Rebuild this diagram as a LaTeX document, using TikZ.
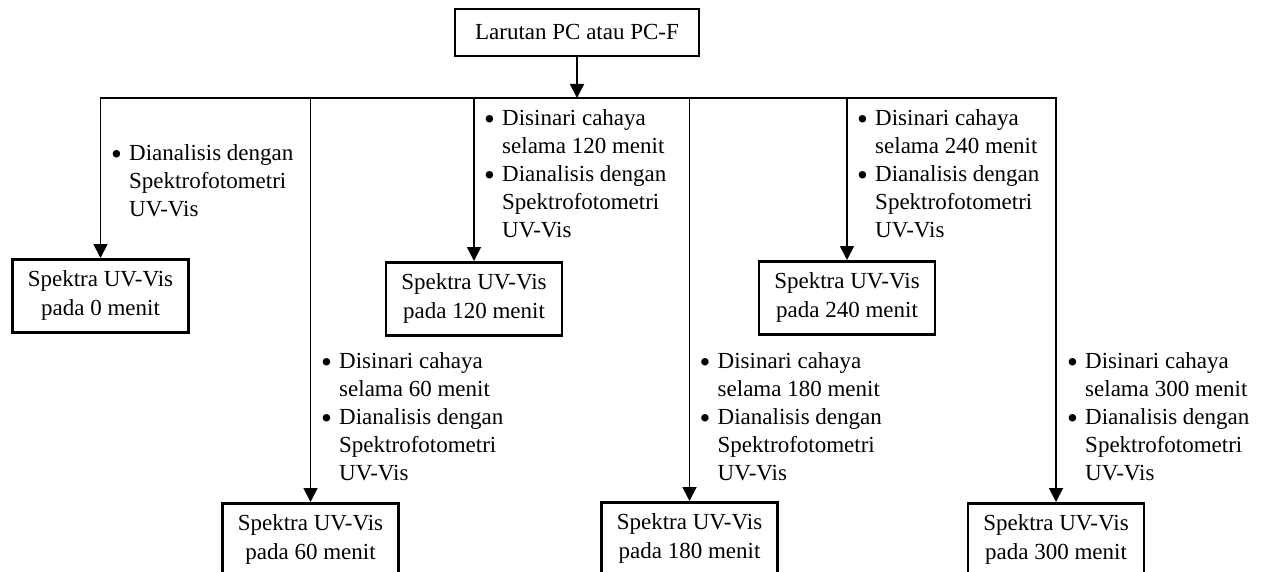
\documentclass[tikz,border=0pt]{standalone}
\usepackage{fontspec}
\setmainfont{Liberation Serif}
\usetikzlibrary{arrows.meta}
% bulleted line and its hanging continuation
\newcommand\bigdot{\raisebox{-4.5pt}{\fontsize{31}{28}\selectfont\textbullet}}
\newcommand\bitem[1]{\makebox[17pt][l]{\hspace*{-1pt}\bigdot}#1}
\newcommand\bcont[1]{\hspace*{17pt}#1}
\begin{document}
\begin{tikzpicture}[x=1pt,y=-1pt,
  box/.style={draw, line width=2.5pt, inner sep=0pt, anchor=north,
    minimum width=176pt, text height=27pt, text depth=46pt,
    font=\fontsize{23}{29}\selectfont},
  topbox/.style={box, minimum width=244pt, text height=30pt, text depth=17pt},
  note/.style={anchor=north west, inner sep=0pt, font=\fontsize{23}{28}\selectfont},
  link/.style={line width=1.8pt},
  arr/.style={link, -{Triangle[width=14pt,length=14pt]}}]
\useasboundingbox (0,0) rectangle (1268,572);
\clip (0,0) rectangle (1268,572);

% boxes
\node[topbox] (top) at (577,8) {Larutan PC atau PC-F};
\node[box] (b0)   at (100.5,258) {\begin{tabular}[t]{@{}c@{}}Spektra UV-Vis\\pada 0 menit\end{tabular}};
\node[box] (b120) at (474,261)   {\begin{tabular}[t]{@{}c@{}}Spektra UV-Vis\\pada 120 menit\end{tabular}};
\node[box] (b240) at (847,260)   {\begin{tabular}[t]{@{}c@{}}Spektra UV-Vis\\pada 240 menit\end{tabular}};
\node[box] (b60)  at (310.5,502) {\begin{tabular}[t]{@{}c@{}}Spektra UV-Vis\\pada 60 menit\end{tabular}};
\node[box] (b180) at (689.5,501) {\begin{tabular}[t]{@{}c@{}}Spektra UV-Vis\\pada 180 menit\end{tabular}};
\node[box] (b300) at (1056,502)  {\begin{tabular}[t]{@{}c@{}}Spektra UV-Vis\\pada 300 menit\end{tabular}};

% distribution line
\coordinate (busy) at (0,98);
\draw[link, line cap=rect] (b0.north |- busy) -- (b300.north |- busy);
\draw[arr] (top.south) -- (top.south |- busy);
\foreach \b in {b0,b60,b120,b180,b240,b300}
  \draw[arr] (\b.north |- busy) -- (\b.north);

% step notes
\node[note] (n0) at (112,140.4) {\begin{tabular}{@{}l@{}}
  \bitem{Dianalisis dengan}\\ \bcont{Spektrofotometri}\\ \bcont{UV-Vis}\end{tabular}};
\node[note] (n120) at (485,105.4) {\begin{tabular}{@{}l@{}}
  \bitem{Disinari cahaya}\\ \bcont{selama 120 menit}\\
  \bitem{Dianalisis dengan}\\ \bcont{Spektrofotometri}\\ \bcont{UV-Vis}\end{tabular}};
\node[note] (n240) at (858,105.4) {\begin{tabular}{@{}l@{}}
  \bitem{Disinari cahaya}\\ \bcont{selama 240 menit}\\
  \bitem{Dianalisis dengan}\\ \bcont{Spektrofotometri}\\ \bcont{UV-Vis}\end{tabular}};
\node[note] (n60) at (322,348.4) {\begin{tabular}{@{}l@{}}
  \bitem{Disinari cahaya}\\ \bcont{selama 60 menit}\\
  \bitem{Dianalisis dengan}\\ \bcont{Spektrofotometri}\\ \bcont{UV-Vis}\end{tabular}};
\node[note] (n180) at (700.5,348.4) {\begin{tabular}{@{}l@{}}
  \bitem{Disinari cahaya}\\ \bcont{selama 180 menit}\\
  \bitem{Dianalisis dengan}\\ \bcont{Spektrofotometri}\\ \bcont{UV-Vis}\end{tabular}};
\node[note] (n300) at (1068,348.4) {\begin{tabular}{@{}l@{}}
  \bitem{Disinari cahaya}\\ \bcont{selama 300 menit}\\
  \bitem{Dianalisis dengan}\\ \bcont{Spektrofotometri}\\ \bcont{UV-Vis}\end{tabular}};
\end{tikzpicture}
\end{document}
